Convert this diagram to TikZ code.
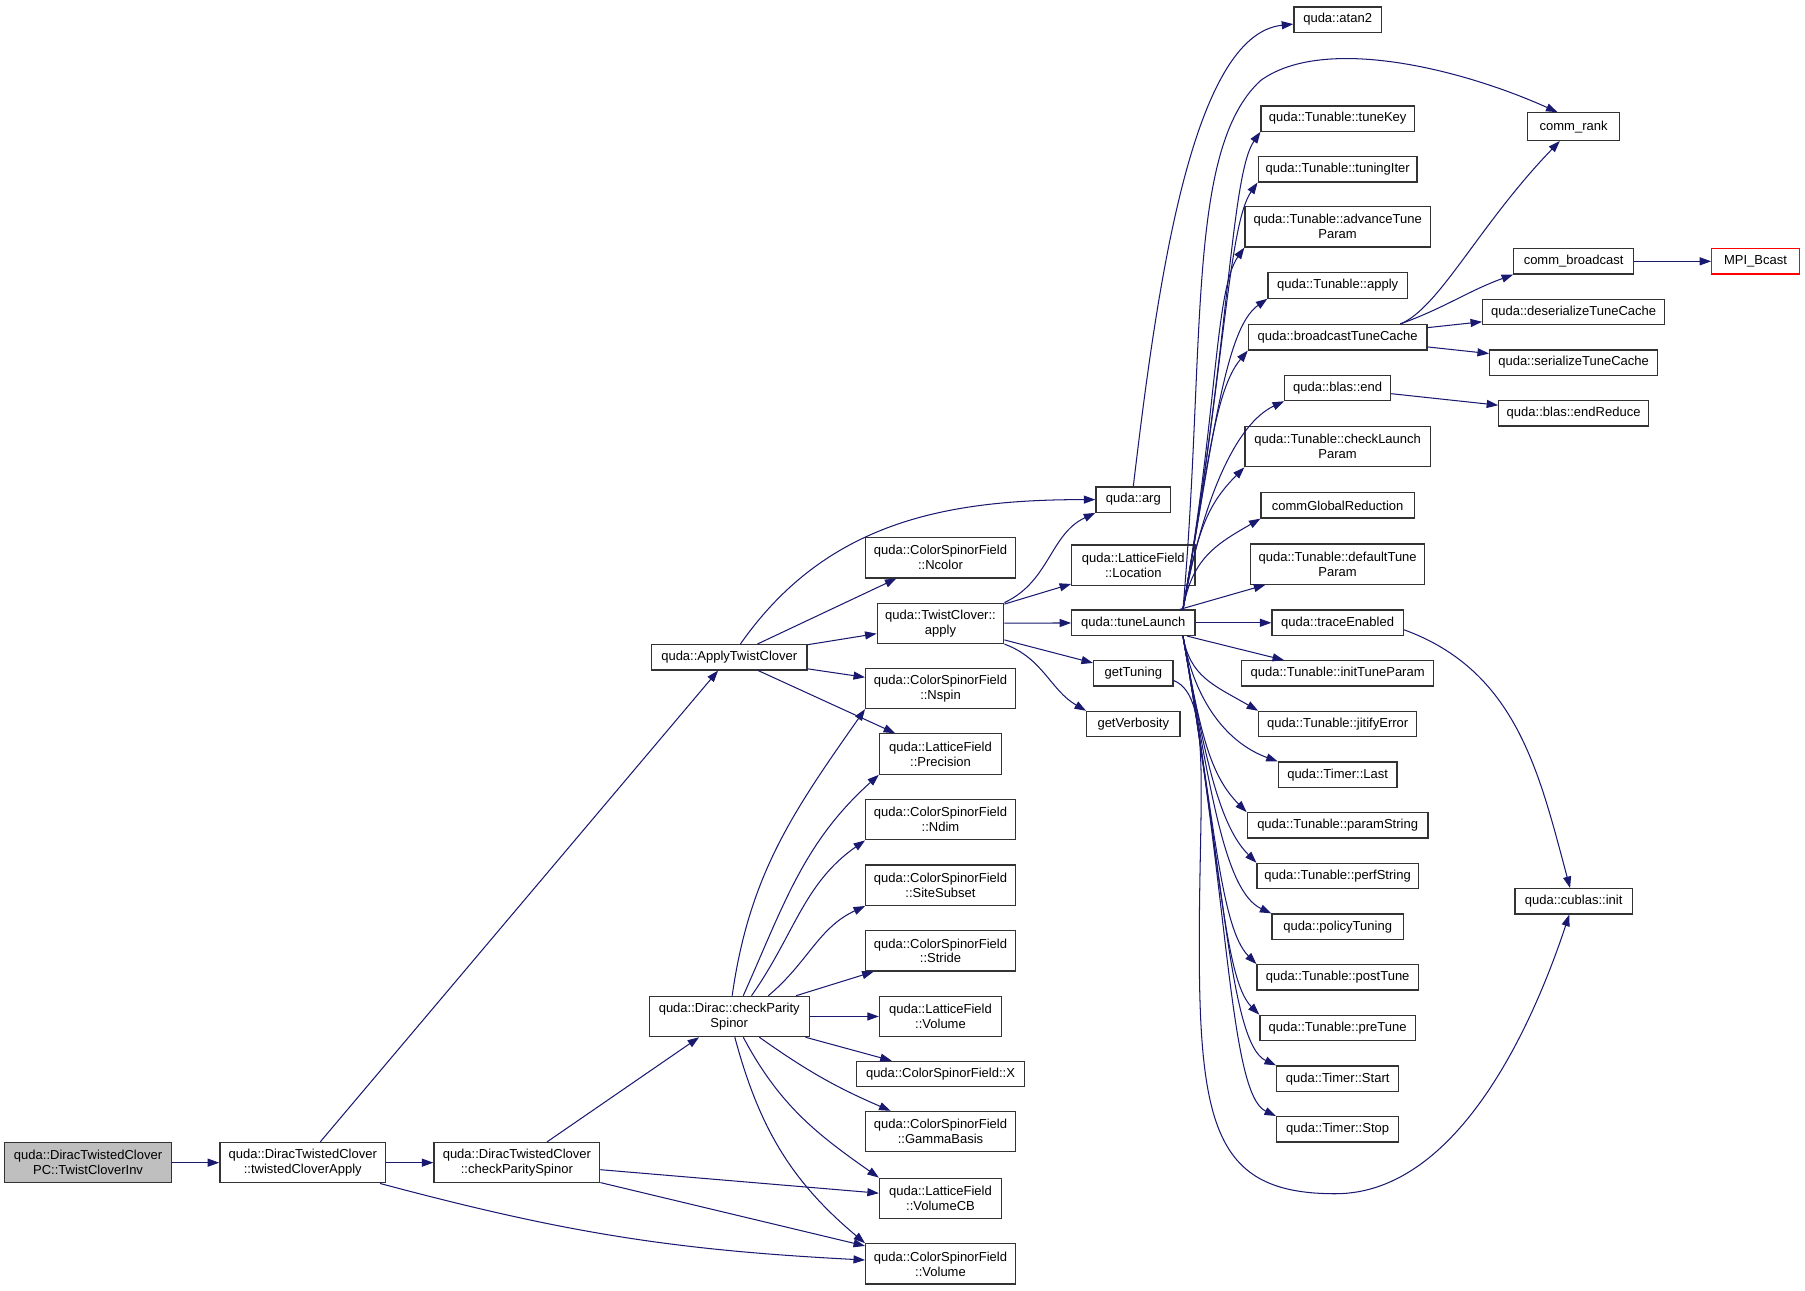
\documentclass[tikz,border=0pt]{standalone}
\usepackage{fontspec}
\setmainfont{Liberation Sans}
\usetikzlibrary{arrows.meta}
\definecolor{callblue}{HTML}{191970}
\begin{document}
\begin{tikzpicture}[x=1pt,y=1pt,
  fn/.style={draw=black!80, line width=1.1pt, fill=white, align=center, inner sep=0pt, minimum height=22, font=\fontsize{11.3}{13}\selectfont},
  tall/.style={minimum height=35},
  call/.style={draw=callblue, line width=0.9pt, -{Triangle[length=10pt,width=7pt]}}]
\useasboundingbox (0,0) rectangle (1568,-1121);
\node[fn, tall, fill=black!25, minimum width=145] (inv) at (76.5,-1010) {quda::DiracTwistedClover\\PC::TwistCloverInv};
\node[fn, tall, minimum width=144] (tca) at (263,-1010) {quda::DiracTwistedClover\\::twistedCloverApply};
\node[fn, tall, minimum width=144] (dcps) at (449,-1010) {quda::DiracTwistedClover\\::checkParitySpinor};
\node[fn, minimum width=135] (atc) at (633.5,-571) {quda::ApplyTwistClover};
\node[fn, tall, minimum width=139] (cps) at (633.5,-883) {quda::Dirac::checkParity\\Spinor};
\node[fn, tall, minimum width=130] (ncolor) at (817,-484.5) {quda::ColorSpinorField\\::Ncolor};
\node[fn, tall, minimum width=110] (apply) at (817,-541.5) {quda::TwistClover::\\apply};
\node[fn, tall, minimum width=130] (nspin) at (817,-598) {quda::ColorSpinorField\\::Nspin};
\node[fn, tall, minimum width=106] (prec) at (817,-655) {quda::LatticeField\\::Precision};
\node[fn, tall, minimum width=130] (ndim) at (817,-712) {quda::ColorSpinorField\\::Ndim};
\node[fn, tall, minimum width=130] (site) at (817,-769) {quda::ColorSpinorField\\::SiteSubset};
\node[fn, tall, minimum width=130] (stride) at (817,-826) {quda::ColorSpinorField\\::Stride};
\node[fn, tall, minimum width=106] (lvol) at (817,-883) {quda::LatticeField\\::Volume};
\node[fn, minimum width=146] (csx) at (817,-933) {quda::ColorSpinorField::X};
\node[fn, tall, minimum width=130] (gamma) at (817,-983) {quda::ColorSpinorField\\::GammaBasis};
\node[fn, tall, minimum width=106] (vcb) at (817,-1041) {quda::LatticeField\\::VolumeCB};
\node[fn, tall, minimum width=130] (cvol) at (817,-1098) {quda::ColorSpinorField\\::Volume};
\node[fn, minimum width=65] (arg) at (984.5,-434) {quda::arg};
\node[fn, tall, minimum width=107] (loc) at (984.5,-491) {quda::LatticeField\\::Location};
\node[fn, minimum width=107] (tl) at (984.5,-541) {quda::tuneLaunch};
\node[fn, minimum width=69] (gt) at (984.5,-585) {getTuning};
\node[fn, minimum width=81] (gv) at (984.5,-629) {getVerbosity};
\node[fn, minimum width=76] (at2) at (1162,-17) {quda::atan2};
\node[fn, minimum width=133] (tk) at (1162,-103) {quda::Tunable::tuneKey};
\node[fn, minimum width=138] (ti) at (1162,-147) {quda::Tunable::tuningIter};
\node[fn, tall, minimum width=161] (atp) at (1162,-197) {quda::Tunable::advanceTune\\Param};
\node[fn, minimum width=121] (tap) at (1162,-248) {quda::Tunable::apply};
\node[fn, minimum width=155] (btc) at (1162,-293) {quda::broadcastTuneCache};
\node[fn, minimum width=92] (bend) at (1162,-337) {quda::blas::end};
\node[fn, tall, minimum width=161] (clp) at (1162,-388) {quda::Tunable::checkLaunch\\Param};
\node[fn, minimum width=133] (cgr) at (1162,-439) {commGlobalReduction};
\node[fn, tall, minimum width=151] (dtp) at (1162,-490) {quda::Tunable::defaultTune\\Param};
\node[fn, minimum width=114] (te) at (1162,-541) {quda::traceEnabled};
\node[fn, minimum width=167] (itp) at (1162,-585) {quda::Tunable::initTuneParam};
\node[fn, minimum width=137] (je) at (1162,-629) {quda::Tunable::jitifyError};
\node[fn, minimum width=103] (tlast) at (1162,-673) {quda::Timer::Last};
\node[fn, minimum width=157] (ps) at (1162,-717) {quda::Tunable::paramString};
\node[fn, minimum width=140] (pfs) at (1162,-761) {quda::Tunable::perfString};
\node[fn, minimum width=114] (pol) at (1162,-805) {quda::policyTuning};
\node[fn, minimum width=140] (post) at (1162,-849) {quda::Tunable::postTune};
\node[fn, minimum width=135] (pre) at (1162,-893) {quda::Tunable::preTune};
\node[fn, minimum width=106] (tstart) at (1162,-937) {quda::Timer::Start};
\node[fn, minimum width=106] (tstop) at (1162,-981) {quda::Timer::Stop};
\node[fn, minimum width=80, minimum height=24] (cr) at (1367,-110) {comm\_rank};
\node[fn, minimum width=104] (cb) at (1367,-227) {comm\_broadcast};
\node[fn, minimum width=158] (dtc) at (1367,-271) {quda::deserializeTuneCache};
\node[fn, minimum width=146] (stc) at (1367,-315) {quda::serializeTuneCache};
\node[fn, minimum width=130] (ered) at (1367,-359) {quda::blas::endReduce};
\node[fn, minimum width=102] (cub) at (1367,-783) {quda::cublas::init};
\node[fn, draw=red, minimum width=76] (mpi) at (1525,-227) {MPI\_Bcast};
\draw[call] (inv) -- (tca);
\draw[call] (tca) -- (dcps);
\draw[call] (tca) -- (atc);
\draw[call] (tca) to[bend right=6] (cvol);
\draw[call] (dcps) -- (cps);
\draw[call] (dcps) -- (vcb);
\draw[call] (dcps) -- (cvol);
\draw[call] (atc.50) to[out=55,in=180] (arg);
\draw[call] (atc) -- (ncolor);
\draw[call] (atc) -- (apply);
\draw[call] (atc) -- (nspin);
\draw[call] (atc) -- (prec);
\draw[call] (cps.82) to[out=82,in=235] (nspin.south west);
\draw[call] (cps.56) to[out=66,in=222] (prec.south west);
\draw[call] (cps.43) to[out=55,in=215] (ndim.south west);
\draw[call] (cps.28) to[out=40,in=205] (site.south west);
\draw[call] (cps) -- (stride);
\draw[call] (cps) -- (lvol);
\draw[call] (cps) -- (csx);
\draw[call] (cps) to[bend right=6] (gamma);
\draw[call] (cps.-56) to[out=-62,in=145] (vcb.north west);
\draw[call] (cps.-75) to[out=-75,in=140] (cvol.north west);
\draw[call] (apply.18) to[out=25,in=205] (arg.south west);
\draw[call] (apply) -- (loc);
\draw[call] (apply) -- (tl);
\draw[call] (apply) -- (gt);
\draw[call] (apply.-18) to[out=-20,in=150] (gv.north west);
\draw[call] (arg.north) .. controls (1005,-250) and (1035,-30) .. (at2);
\draw[call] (tl) -- (dtp);
\draw[call] (tl) -- (te);
\draw[call] (tl) -- (itp);
\foreach \t/\l/\a in {tk/230/235, ti/205/235, atp/174/235, tap/150/215, btc/125/230, bend/100/205, clp/69/225, cgr/45/210}
  \draw[call] (tl.15) .. controls +(80:\l) and +(\a:45) .. (\t.south west);
\foreach \t/\l/\a in {je/36/150, tlast/60/160, ps/85/135, pfs/109/135, pol/133/155, post/157/135, pre/181/135, tstart/206/155, tstop/230/155}
  \draw[call] (tl.-15) .. controls +(-80:\l) and +(\a:45) .. (\t.north west);
\draw[call] (tl.15) .. controls +(85:230) and (1030,-130) .. (1095,-70) .. controls (1150,-30) and (1270,-60) .. ([xshift=-14pt]cr.north);
\draw[call] (btc.12) .. controls (1250,-268) and (1285,-195) .. ([xshift=-12pt]cr.south);
\draw[call] (btc.12) to[out=20,in=200] (cb.south west);
\draw[call] (btc) -- (dtc);
\draw[call] (btc) -- (stc);
\draw[call] (cb) -- (mpi);
\draw[call] (bend) -- (ered);
\draw[call] (gt.-10) .. controls (1055,-605) and (1040,-700) .. (1042,-850) .. controls (1044,-990) and (1065,-1037) .. (1160,-1037) .. controls (1270,-1037) and (1335,-880) .. (cub);
\draw[call] (te.-6) to[out=-20,in=105] (cub);
\end{tikzpicture}
\end{document}
